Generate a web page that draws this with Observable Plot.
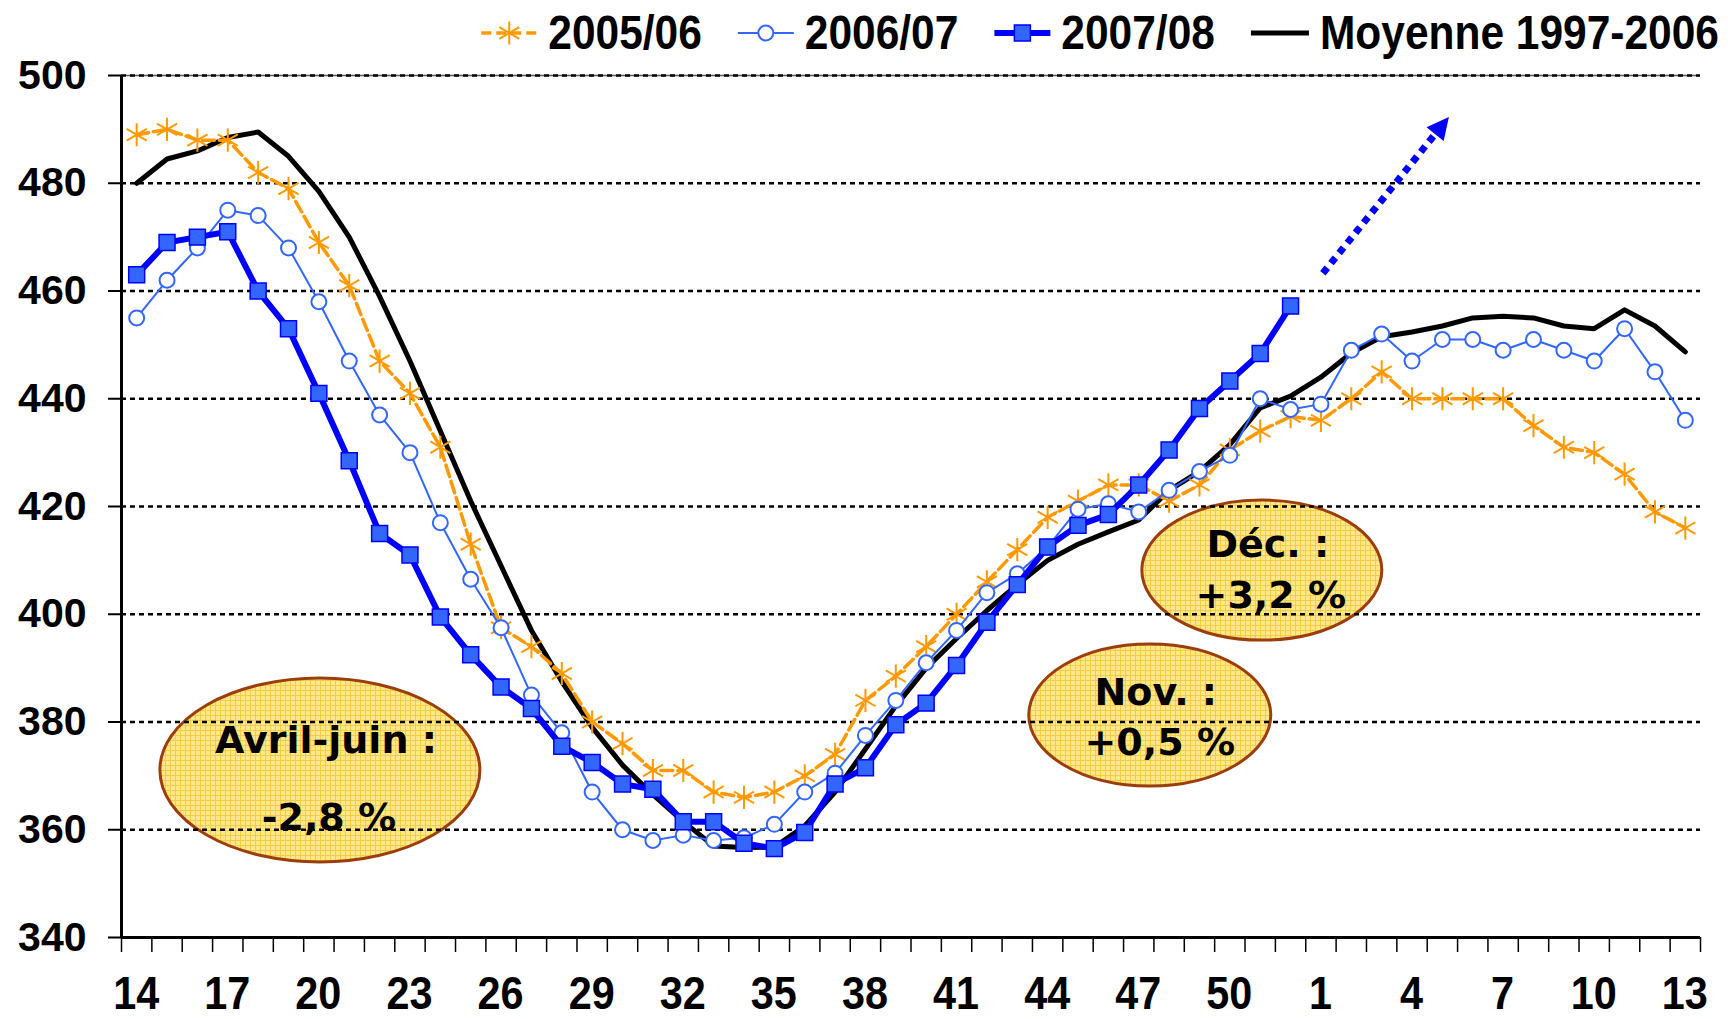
<!DOCTYPE html>
<html><head><meta charset="utf-8">
<script src="https://cdn.jsdelivr.net/npm/d3@7"></script>
<script src="https://cdn.jsdelivr.net/npm/@observablehq/plot@0.6"></script>
<style>
html,body{margin:0;padding:0;background:#fff;overflow:hidden;}
body{position:relative;width:1728px;height:1019px;}
#legend{position:absolute;left:0;top:0;width:1728px;height:62px;z-index:2;pointer-events:none;}
#chart svg{display:block;}
</style></head><body>
<div id="chart"></div>
<svg id="legend" width="1728" height="62"></svg>
<script>
// ---------- data ----------
const weeks = [14,15,16,17,18,19,20,21,22,23,24,25,26,27,28,29,30,31,32,33,34,35,36,37,38,39,40,41,42,43,44,45,46,47,48,49,50,51,52,1,2,3,4,5,6,7,8,9,10,11,12,13];
const xLabelWeeks = [14,17,20,23,26,29,32,35,38,41,44,47,50,1,4,7,10,13];
const yTicks = [340,360,380,400,420,440,460,480,500];
const seriesNames = ["2005/06","2006/07","2007/08","Moyenne 1997-2006"];

const s0506 = [489,490,488,488,482,479,469,461,447,441,431,413,397.5,394,389,380,376,371,371,367,366,367,370,374,384,388.5,394,400,406,412,418,421,424,424,421,424,430.5,434,436.7,436,440,445,440,440,440,440,435,431,430,426,419,416];
const s0607 = [455,462,468,475,474,468,458,447,437,430,417,406.5,397.5,385,378,367,360,358,359,358,358.5,361,367,370.5,377.5,384,391,397,404,407.5,412.5,419.5,420.5,419,423,426.5,429.5,440,438,439,449,452,447,451,451,449,451,449,447,453,445,436];
const s0708 = [463,469,470,471,460,453,441,428.5,415,411,399.5,392.5,386.5,382.5,375.5,372.5,368.5,367.5,361.5,361.5,357.5,356.5,359.5,368.5,371.5,379.5,383.5,390.5,398.5,405.5,412.5,416.5,418.5,424,430.5,438.2,443.3,448.4,457.2];
const moyenne = [480,484.5,486,488.5,489.5,485,478.5,470,459,447,434,421,409,397,387.5,379,372,366.5,361.5,357,356.7,356.8,360.7,367,375,383,390,395.5,400.7,405.5,410,413,415.3,417.5,423,426.5,431.5,438.3,440.5,444,448.5,451.5,452.4,453.5,455,455.3,455,453.5,453,456.5,453.5,448.7];

// annotations (positions in data units: week index, value)
const noteTexts = [["Avril-juin :", "-2,8 %"], ["Déc. :", "+3,2 %"], ["Nov. :", "+0,5 %"]];
const noteX = [6.05, 37.07, 33.38];
const noteY = [371.0, 408.1, 381.2];
const trendFrom = [39.08, 463.2];
const trendTo = [43.23, 492.2];

// ---------- styles ----------
const C_ORANGE = "#FF9900", C_BLUE = "#3366FF", C_DBLUE = "#0000FF";
const noteStyle = [
  {rx:160, ry:92, l1:[6,-17], l2:[9,60]},
  {rx:120, ry:70, l1:[6,-13], l2:[9,38]},
  {rx:121, ry:71, l1:[6,-10], l2:[10,40]}
];
const BOLD = '"Liberation Sans",Arial,sans-serif';
const XFONT = 46, XSQUEEZE = 0.9;
const LFONT = 48, LSQUEEZE = 0.885;

// ---------- tables ----------
const rows = vals => vals.map((v, i) => ({i, week: weeks[i], v}));
const d0506 = rows(s0506), d0607 = rows(s0607), d0708 = rows(s0708), dMoy = rows(moyenne);
const bounds = d3.range(weeks.length + 1).map(k => k - 0.5);
const labelIdx = xLabelWeeks.map(w => weeks.indexOf(w));

function noteShapes(index, scales) {
  const g = d3.create("svg:g");
  const pat = g.append("defs").append("pattern").attr("id", "notegrid")
    .attr("width", 5).attr("height", 5).attr("patternUnits", "userSpaceOnUse");
  pat.append("rect").attr("width", 5).attr("height", 5).attr("fill", "#FFE88C");
  pat.append("path").attr("d", "M0 0.5H5M0.5 0V5").attr("stroke", "#F7CC45").attr("stroke-width", 1);
  noteX.forEach((nx, k) => {
    g.append("ellipse").attr("cx", scales.x(nx)).attr("cy", scales.y(noteY[k]))
      .attr("rx", noteStyle[k].rx).attr("ry", noteStyle[k].ry)
      .attr("fill", "url(#notegrid)").attr("stroke", "#9C3E0C").attr("stroke-width", 3);
  });
  return g.node();
}
function noteLabels(index, scales) {
  const g = d3.create("svg:g").attr("font-family", '"DejaVu Sans",sans-serif')
    .attr("font-weight", "bold").attr("font-size", 38).attr("text-anchor", "middle").attr("fill", "#000");
  noteX.forEach((nx, k) => {
    const cx = scales.x(nx), cy = scales.y(noteY[k]), st = noteStyle[k];
    g.append("text").attr("x", cx + st.l1[0]).attr("y", cy + st.l1[1]).text(noteTexts[k][0]);
    g.append("text").attr("x", cx + st.l2[0]).attr("y", cy + st.l2[1]).text(noteTexts[k][1]);
  });
  return g.node();
}
function xLabels(index, scales) {
  const g = d3.create("svg:g").attr("font-family", BOLD).attr("font-weight", "bold")
    .attr("font-size", XFONT).attr("text-anchor", "middle").attr("fill", "#000");
  const base = scales.y(340) + 72;
  labelIdx.forEach(i => {
    const s = String(weeks[i]);
    g.append("text").attr("x", scales.x(i)).attr("y", base)
      .attr("textLength", s.length * 0.556 * XFONT * XSQUEEZE).attr("lengthAdjust", "spacingAndGlyphs").text(s);
  });
  return g.node();
}
function trendArrow(index, scales) {
  const g = d3.create("svg:g");
  const x1 = scales.x(trendFrom[0]), y1 = scales.y(trendFrom[1]);
  const x2 = scales.x(trendTo[0]), y2 = scales.y(trendTo[1]);
  const len = Math.hypot(x2 - x1, y2 - y1), ux = (x2 - x1) / len, uy = (y2 - y1) / len;
  const head = 22, half = 11;
  const bx = x2 - ux * head, by = y2 - uy * head;
  g.append("line").attr("x1", x1).attr("y1", y1).attr("x2", bx + ux * 2).attr("y2", by + uy * 2)
    .attr("stroke", C_DBLUE).attr("stroke-width", 7).attr("stroke-dasharray", "7,6");
  g.append("path").attr("d", `M${x2},${y2}L${bx - uy * half},${by + ux * half}L${bx + uy * half},${by - ux * half}Z`)
    .attr("fill", C_DBLUE);
  return g.node();
}

const plot = Plot.plot({
  width: 1728, height: 1019,
  marginTop: 75, marginBottom: 82, marginLeft: 121, marginRight: 28,
  x: {type: "linear", domain: [-0.5, weeks.length - 0.5], axis: null},
  y: {domain: [340, 500], axis: null},
  marks: [
    noteShapes,
    Plot.ruleY([500], {stroke: "#555", strokeWidth: 1.5}),
    Plot.ruleY(yTicks.filter(t => t > 340), {stroke: "#000", strokeWidth: 2.5, strokeDasharray: "5,4"}),
    Plot.axisY({ticks: yTicks, tickSize: 13, tickPadding: 22, tickFormat: d => String(d), label: null,
      strokeWidth: 2, fontSize: 41, fontWeight: "bold", fontFamily: BOLD}),
    Plot.axisX({ticks: bounds, tickSize: 15, tickFormat: () => "", label: null, strokeWidth: 1.5}),
    xLabels,
    Plot.ruleX([-0.5], {stroke: "#000", strokeWidth: 3}),
    Plot.ruleY([340], {stroke: "#000", strokeWidth: 3}),
    Plot.line(dMoy, {x: "i", y: "v", stroke: "#000", strokeWidth: 5}),
    Plot.line(d0506, {x: "i", y: "v", stroke: C_ORANGE, strokeWidth: 3.5, strokeDasharray: "12,5"}),
    Plot.dot(d0506, {x: "i", y: "v", symbol: "asterisk", r: 11, stroke: C_ORANGE, strokeWidth: 2}),
    Plot.line(d0607, {x: "i", y: "v", stroke: C_BLUE, strokeWidth: 2}),
    Plot.dot(d0607, {x: "i", y: "v", symbol: "circle", r: 7.5, fill: "#fff", stroke: C_BLUE, strokeWidth: 2}),
    Plot.line(d0708, {x: "i", y: "v", stroke: C_DBLUE, strokeWidth: 6}),
    Plot.dot(d0708, {x: "i", y: "v", symbol: "square", r: 9, fill: C_BLUE, stroke: C_DBLUE, strokeWidth: 1.5}),
    trendArrow,
    noteLabels
  ]
});
document.getElementById("chart").appendChild(plot);

// ---------- legend (right-aligned, above the plot area) ----------
const legend = d3.select("#legend");
const swatches = [
  s => { s.append("line").attr("x1",0).attr("x2",56).attr("y1",0).attr("y2",0).attr("stroke",C_ORANGE).attr("stroke-width",3.5).attr("stroke-dasharray","10,5");
         s.append("path").attr("d", d3.symbol(d3.symbolAsterisk, Math.PI*121)()).attr("transform","translate(28,0)").attr("stroke",C_ORANGE).attr("stroke-width",2).attr("fill","none"); },
  s => { s.append("line").attr("x1",0).attr("x2",56).attr("y1",0).attr("y2",0).attr("stroke",C_BLUE).attr("stroke-width",2);
         s.append("circle").attr("cx",28).attr("cy",0).attr("r",7.5).attr("fill","#fff").attr("stroke",C_BLUE).attr("stroke-width",2); },
  s => { s.append("line").attr("x1",0).attr("x2",56).attr("y1",0).attr("y2",0).attr("stroke",C_DBLUE).attr("stroke-width",6);
         s.append("rect").attr("x",20).attr("y",-8).attr("width",16).attr("height",16).attr("fill",C_BLUE).attr("stroke",C_DBLUE).attr("stroke-width",1.5); },
  s => { s.append("line").attr("x1",0).attr("x2",58).attr("y1",0).attr("y2",0).attr("stroke","#000").attr("stroke-width",5); }
];
let cursor = 1719;
for (let k = seriesNames.length - 1; k >= 0; k--) {
  const t = legend.append("text").attr("font-family", BOLD).attr("font-weight", "bold")
    .attr("font-size", LFONT).attr("fill", "#000").attr("y", 49).text(seriesNames[k]);
  const w = t.node().getComputedTextLength() * LSQUEEZE;
  t.attr("textLength", w).attr("lengthAdjust", "spacingAndGlyphs").attr("x", cursor - w);
  const sw = k === 3 ? 58 : 56;
  const sx = cursor - w - 11 - sw;
  const g = legend.append("g").attr("transform", `translate(${sx},33)`);
  swatches[k](g);
  cursor = sx - 36;
}
</script>
</body></html>
